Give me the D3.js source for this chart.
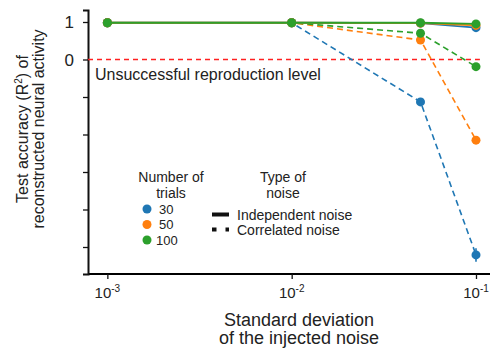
<!DOCTYPE html>
<html>
<head>
<meta charset="utf-8">
<script src="https://cdn.jsdelivr.net/npm/d3@7"></script>
<style>
  body { margin: 0; background: #fff; }
  text { font-family: "Liberation Sans", Arial, sans-serif; fill: #222; }
</style>
</head>
<body>
<svg id="chart"></svg>
<script>
const width = 494;
const height = 351;

// noise levels (x) and test accuracy per number of trials
const noiseLevels = [0.001, 0.01, 0.05, 0.1];
const trials = ['30', '50', '100'];
const colors = ['#1f77b4', '#ff7f0e', '#2ca02c'];

const independent = {
    '30':  [0.98, 0.98, 0.97, 0.85],
    '50':  [0.98, 0.98, 0.97, 0.91],
    '100': [0.98, 0.98, 0.98, 0.95]
};
const correlated = {
    '30':  [0.98, 0.98, -1.13, -5.21],
    '50':  [0.98, 0.98, 0.52, -2.15],
    '100': [0.98, 0.98, 0.70, -0.19]
};
const correlatedErr = {
    '30':  [0, 0, 0.04, 0.18],
    '50':  [0, 0, 0.03, 0.05],
    '100': [0, 0, 0.02, 0.03]
};

const yTicks = [1, 0, -1, -2, -3, -4, -5];
const yTickLabels = { 1: '1', 0: '0' };
const xTicks = [1e-3, 1e-2, 1e-1];
const xTickExp = ['-3', '-2', '-1'];

const margin = { left: 88, right: 4, top: 10, bottom: 77 };

const svg = d3.select('#chart')
    .attr('width', width)
    .attr('height', height);

const x = d3.scaleLog()
    .domain([Math.pow(10, -3.105), Math.pow(10, -0.924)])
    .range([margin.left, width - margin.right]);

const y = d3.scaleLinear()
    .domain([-5.72, 1.32])
    .range([height - margin.bottom, margin.top]);

// minor ticks on log axis
let minor = [];
for (let e = -4; e <= -1; e++) {
    for (let m = 2; m <= 9; m++) {
        const v = m * Math.pow(10, e);
        if (v >= x.domain()[0] && v <= x.domain()[1]) minor.push(v);
    }
}

const xAxisMinor = d3.axisBottom(x).tickValues(minor).tickSize(3).tickFormat('');
const xAxis = d3.axisBottom(x).tickValues(xTicks).tickSize(5).tickFormat('');
const yAxis = d3.axisLeft(y).tickValues(yTicks).tickSize(5).tickFormat('');

const gx = svg.append('g')
    .attr('transform', `translate(0, ${height - margin.bottom})`);
gx.call(xAxisMinor);
gx.call(xAxis);
gx.selectAll('path.domain').attr('stroke-width', 2).attr('d', `M${margin.left},0H${width - margin.right}`);
gx.selectAll('line').attr('stroke-width', 1.3).attr('stroke', '#111');

const gy = svg.append('g')
    .attr('transform', `translate(${margin.left}, 0)`)
    .call(yAxis);
gy.selectAll('path.domain').attr('stroke-width', 2).attr('stroke', '#111');
gy.selectAll('line').attr('stroke-width', 1.3).attr('stroke', '#111');

// y tick labels
svg.selectAll('.ylab')
    .data(yTicks.filter(d => yTickLabels[d] !== undefined))
    .enter().append('text')
    .attr('x', margin.left - 14)
    .attr('y', d => y(d))
    .attr('dy', '0.36em')
    .attr('text-anchor', 'end')
    .style('font-size', '17px')
    .text(d => yTickLabels[d]);

// x tick labels 10^e
xTicks.forEach((v, i) => {
    const t = svg.append('text')
        .attr('x', x(v))
        .attr('y', height - margin.bottom + 24)
        .attr('text-anchor', 'middle')
        .style('font-size', '15px');
    t.append('tspan').text('10');
    t.append('tspan').attr('dy', -6).style('font-size', '10px').text(xTickExp[i]);
});

// red reference line at 0
svg.append('line')
    .attr('x1', margin.left)
    .attr('x2', x(0.105))
    .attr('y1', y(0))
    .attr('y2', y(0))
    .attr('stroke', '#ff2020')
    .attr('stroke-width', 1.5)
    .attr('stroke-dasharray', '5,4');

svg.append('text')
    .attr('x', 95)
    .attr('y', 80)
    .style('font-size', '16px')
    .text('Unsuccessful reproduction level');

const line = d3.line()
    .x((d, i) => x(noiseLevels[i]))
    .y(d => y(d));

// correlated (dashed) first
trials.forEach((t, k) => {
    svg.append('path')
        .datum(correlated[t])
        .attr('fill', 'none')
        .attr('stroke', colors[k])
        .attr('stroke-width', 1.6)
        .attr('stroke-dasharray', '6,4')
        .attr('d', line);
    svg.selectAll(null)
        .data(correlated[t])
        .enter().append('line')
        .attr('x1', (d, i) => x(noiseLevels[i]))
        .attr('x2', (d, i) => x(noiseLevels[i]))
        .attr('y1', (d, i) => y(d - correlatedErr[t][i]))
        .attr('y2', (d, i) => y(d + correlatedErr[t][i]))
        .attr('stroke', colors[k])
        .attr('stroke-width', 1.6);
    svg.selectAll(null)
        .data(correlated[t])
        .enter().append('circle')
        .attr('cx', (d, i) => x(noiseLevels[i]))
        .attr('cy', d => y(d))
        .attr('r', 4.5)
        .attr('fill', colors[k]);
});

// independent (solid)
trials.forEach((t, k) => {
    svg.append('path')
        .datum(independent[t])
        .attr('fill', 'none')
        .attr('stroke', colors[k])
        .attr('stroke-width', 2)
        .attr('d', line);
    svg.selectAll(null)
        .data(independent[t])
        .enter().append('circle')
        .attr('cx', (d, i) => x(noiseLevels[i]))
        .attr('cy', d => y(d))
        .attr('r', 4.5)
        .attr('fill', colors[k]);
});

// axis titles
const yt = svg.append('text')
    .attr('transform', 'translate(28, 129) rotate(-90)')
    .attr('text-anchor', 'middle')
    .style('font-size', '16px');
yt.append('tspan').text('Test accuracy (R');
yt.append('tspan').attr('dy', -6).style('font-size', '10px').text('2');
yt.append('tspan').attr('dy', 6).text(') of');

svg.append('text')
    .attr('transform', 'translate(44, 129) rotate(-90)')
    .attr('text-anchor', 'middle')
    .style('font-size', '16px')
    .text('reconstructed neural activity');

svg.append('text')
    .attr('x', 299)
    .attr('y', 326)
    .attr('text-anchor', 'middle')
    .style('font-size', '18px')
    .text('Standard deviation');
svg.append('text')
    .attr('x', 299)
    .attr('y', 344)
    .attr('text-anchor', 'middle')
    .style('font-size', '18px')
    .text('of the injected noise');

// legend: number of trials
svg.append('text').attr('x', 171).attr('y', 182).attr('text-anchor', 'middle')
    .style('font-size', '14px').text('Number of');
svg.append('text').attr('x', 171).attr('y', 198).attr('text-anchor', 'middle')
    .style('font-size', '14px').text('trials');
const legendY = [209, 224.5, 240];
trials.forEach((t, k) => {
    svg.append('circle')
        .attr('cx', 147).attr('cy', legendY[k]).attr('r', 4.5).attr('fill', colors[k]);
    svg.append('text')
        .attr('x', t === '100' ? 156 : 159)
        .attr('y', legendY[k])
        .attr('dy', '0.36em')
        .style('font-size', '13px')
        .text(t);
});

// legend: type of noise
svg.append('text').attr('x', 283).attr('y', 182).attr('text-anchor', 'middle')
    .style('font-size', '14px').text('Type of');
svg.append('text').attr('x', 283).attr('y', 198).attr('text-anchor', 'middle')
    .style('font-size', '14px').text('noise');
const noiseTypes = ['Independent noise', 'Correlated noise'];
const noiseDash = [null, '4.5,9'];
const noiseY = [214.5, 229.5];
noiseTypes.forEach((n, k) => {
    svg.append('line')
        .attr('x1', 212).attr('x2', 229)
        .attr('y1', noiseY[k]).attr('y2', noiseY[k])
        .attr('stroke', '#111')
        .attr('stroke-width', 4)
        .attr('stroke-dasharray', noiseDash[k]);
    svg.append('text')
        .attr('x', 237).attr('y', noiseY[k]).attr('dy', '0.38em')
        .style('font-size', '14px').text(n);
});
</script>
</body>
</html>
